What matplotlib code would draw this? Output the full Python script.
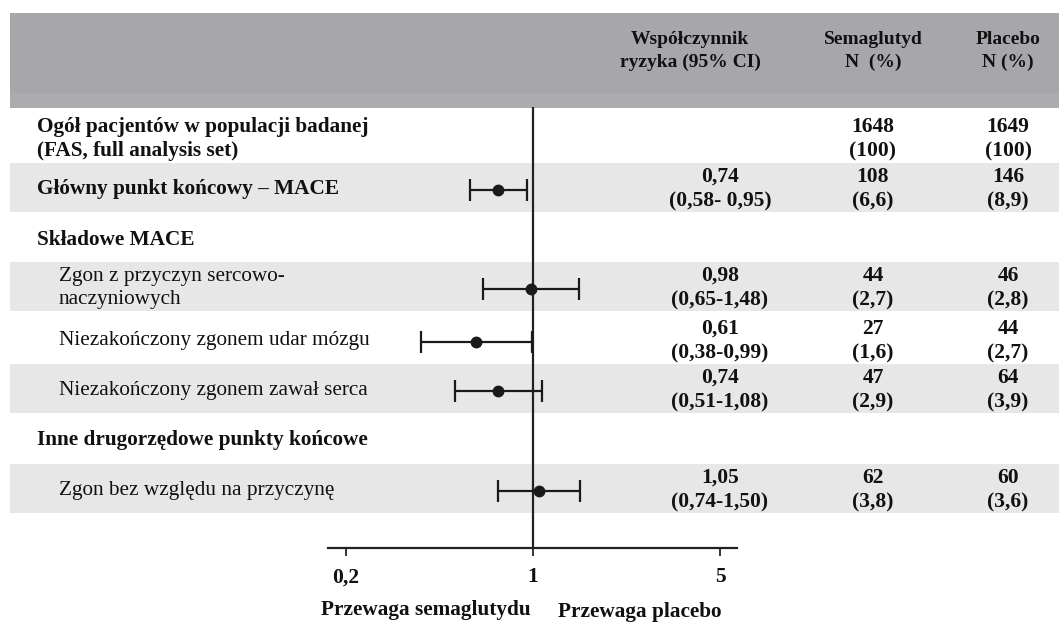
import numpy as np
import matplotlib.pyplot as plt
from matplotlib.patches import Rectangle

plt.rcParams["font.family"] = ["Liberation Serif", "DejaVu Serif"]

# row labels (top to bottom)
labels = [
    "Ogół pacjentów w populacji badanej\n(FAS, full analysis set)",
    "Główny punkt końcowy – MACE",
    "Składowe MACE",
    "Zgon z przyczyn sercowo-\nnaczyniowych",
    "Niezakończony zgonem udar mózgu",
    "Niezakończony zgonem zawał serca",
    "Inne drugorzędowe punkty końcowe",
    "Zgon bez względu na przyczynę",
]
is_header_row = [True, True, True, False, False, False, True, False]

# hazard ratios with 95% CI (None where the row has no estimate)
hr = [None, 0.74, None, 0.98, 0.61, 0.74, None, 1.05]
ci_low = [None, 0.58, None, 0.65, 0.38, 0.51, None, 0.74]
ci_high = [None, 0.95, None, 1.48, 0.99, 1.08, None, 1.50]
hr_text = [None, "0,74\n(0,58- 0,95)", None, "0,98\n(0,65-1,48)", "0,61\n(0,38-0,99)",
           "0,74\n(0,51-1,08)", None, "1,05\n(0,74-1,50)"]

sema_n = ["1648", "108", None, "44", "27", "47", None, "62"]
sema_pct = ["(100)", "(6,6)", None, "(2,7)", "(1,6)", "(2,9)", None, "(3,8)"]
plac_n = ["1649", "146", None, "46", "44", "64", None, "60"]
plac_pct = ["(100)", "(8,9)", None, "(2,8)", "(2,7)", "(3,9)", None, "(3,6)"]

ticks = [0.2, 1, 5]
tick_labels = ["0,2", "1", "5"]

W, H = 1059, 628
fig = plt.figure(figsize=(W / 100, H / 100), dpi=100)

# background layer in pixel coordinates
bg = fig.add_axes([0, 0, 1, 1])
bg.set_xlim(0, W)
bg.set_ylim(H, 0)
bg.axis("off")

# header band
bg.add_patch(Rectangle((10, 13), W - 10, 80, color="#a7a7ab", lw=0))
bg.add_patch(Rectangle((10, 93), W - 10, 15, color="#acacaf", lw=0))

row_y = [139, 189, 240, 288, 341, 390, 440, 490]
band_rows = [1, 3, 5, 7]
for r in band_rows:
    bg.add_patch(Rectangle((10, row_y[r] - 26), W - 10, 49, color="#e7e7e7", lw=0))

ink = "#111111"
hdr_kw = dict(ha="center", va="center", fontsize=14, fontweight="bold", color=ink,
              linespacing=1.5)
bg.text(690, 51, "Współczynnik\nryzyka (95% CI)", **hdr_kw)
bg.text(873, 51, "Semaglutyd\nN  (%)", **hdr_kw)
bg.text(1008, 51, "Placebo\nN (%)", **hdr_kw)

val_kw = dict(ha="center", va="center", fontsize=15.5, fontweight="bold", color=ink,
              linespacing=1.33)
for i, lab in enumerate(labels):
    y = row_y[i]
    if is_header_row[i]:
        bg.text(37, y, lab, ha="left", va="center", fontsize=15.3, fontweight="bold",
                color=ink, linespacing=1.33)
    else:
        bg.text(59, y, lab, ha="left", va="center", fontsize=15.3, color=ink,
                linespacing=1.33)
    if hr_text[i]:
        bg.text(720, y, hr_text[i], **val_kw)
    if sema_n[i]:
        bg.text(873, y, sema_n[i] + "\n" + sema_pct[i], **val_kw)
        bg.text(1008, y, plac_n[i] + "\n" + plac_pct[i], **val_kw)

bg.text(426, 610, "Przewaga semaglutydu", ha="center", va="center", fontsize=15.3,
        fontweight="bold", color=ink)
bg.text(640, 612, "Przewaga placebo", ha="center", va="center", fontsize=15.3,
        fontweight="bold", color=ink)

# forest plot on a log axis
x0, x1 = 328, 737
y_top, y_bot = 107, 548
ax = fig.add_axes([x0 / W, 1 - y_bot / H, (x1 - x0) / W, (y_bot - y_top) / H])
ax.patch.set_alpha(0)
ax.set_xscale("log")
ppd = 267.5  # pixels per decade
ax.set_xlim(10 ** ((x0 - 533) / ppd), 10 ** ((x1 - 533) / ppd))
ax.set_ylim(y_bot, y_top)
for s in ["top", "right", "left"]:
    ax.spines[s].set_visible(False)
ax.spines["bottom"].set_linewidth(1.6)
ax.spines["bottom"].set_color("#222222")
ax.set_yticks([])
ax.set_xticks(ticks)
ax.set_xticklabels(tick_labels, fontsize=15.5, fontweight="bold", color=ink)
ax.minorticks_off()
ax.tick_params(axis="x", direction="out", length=6, width=1.4, color="#333333", pad=8)
ax.axvline(1, color="#222222", lw=1.6)

for i in range(len(labels)):
    if hr[i] is None:
        continue
    y = row_y[i] + 1
    ax.errorbar(hr[i], y, xerr=[[hr[i] - ci_low[i]], [ci_high[i] - hr[i]]], fmt="o",
                color="#1a1a1a", ms=7.5, elinewidth=1.6, capsize=8, capthick=1.6)

fig.savefig("out.png", dpi=100)
